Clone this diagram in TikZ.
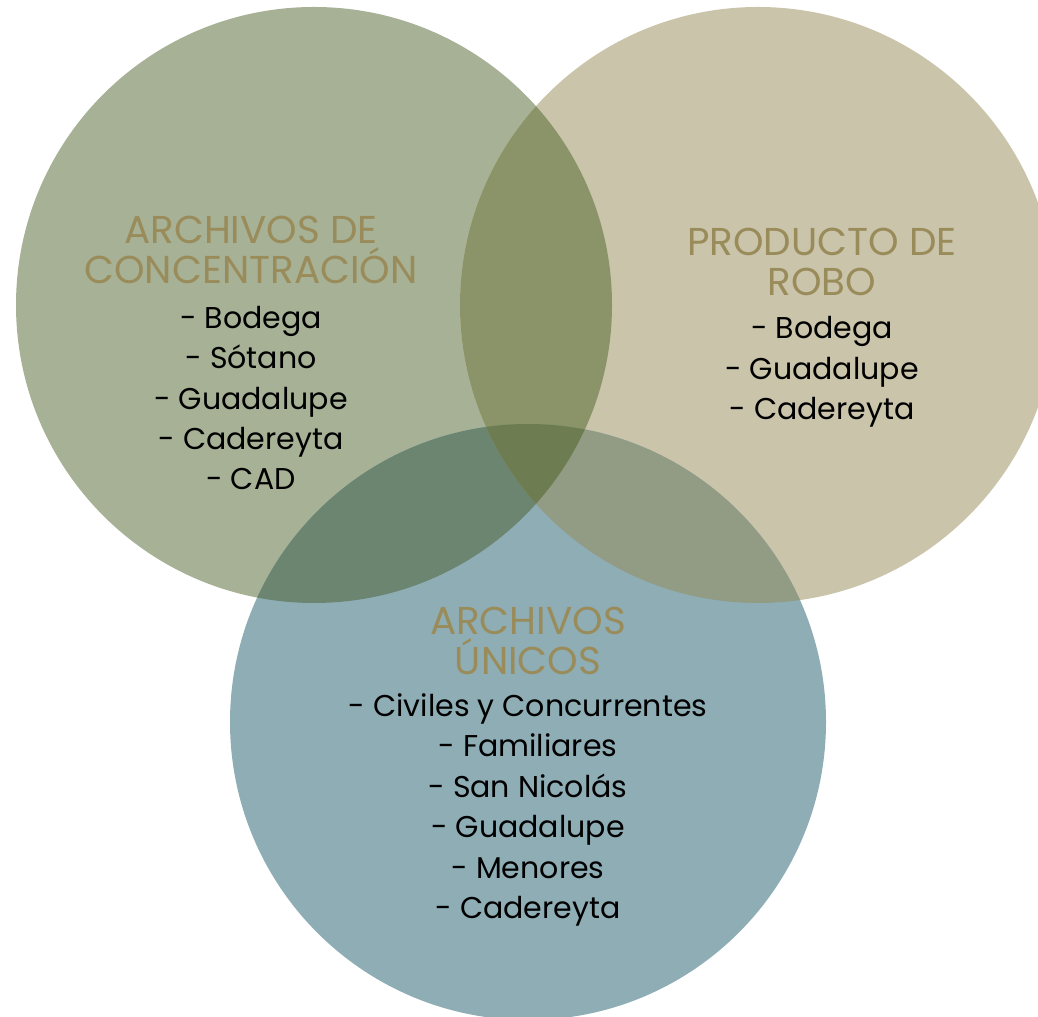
\documentclass[tikz,border=0pt]{standalone}
\usepackage{fontspec}
\setmainfont{Poppins}
\definecolor{gcirc}{HTML}{A6B195}
\definecolor{tcirc}{HTML}{C9C4AA}
\definecolor{bcirc}{HTML}{8FADB5}
\definecolor{gtover}{HTML}{8B9468}
\definecolor{gbover}{HTML}{6B8571}
\definecolor{tbover}{HTML}{929C85}
\definecolor{allover}{HTML}{6E7C51}
\definecolor{headcol}{HTML}{9A8C5A}
\tikzset{
  headtext/.style={text=headcol, align=center, font=\fontsize{22.1pt}{22.7pt}\selectfont, inner sep=0pt},
  listtext/.style={text=black, align=center, font=\fontsize{17.1pt}{23pt}\selectfont, inner sep=0pt}
}
\begin{document}
\begin{tikzpicture}[x=0.02cm, y=0.02cm]
\useasboundingbox (0,0) rectangle (1038,1017);
\coordinate (g) at (314,712);
\coordinate (t) at (758,712);
\coordinate (b) at (528,295);
\fill[gcirc] (g) circle (298);
\fill[tcirc] (t) circle (298);
\fill[bcirc] (b) circle (298);
\begin{scope}
  \clip (g) circle (298);
  \fill[gtover] (t) circle (298);
  \fill[gbover] (b) circle (298);
\end{scope}
\begin{scope}
  \clip (t) circle (298);
  \fill[tbover] (b) circle (298);
\end{scope}
\begin{scope}
  \clip (g) circle (298);
  \clip (t) circle (298);
  \fill[allover] (b) circle (298);
\end{scope}
% titles and lists
\node[headtext] (gtitle) at (251,767) {ARCHIVOS DE\\CONCENTRACIÓN};
\node[listtext] (glist) at (251,619) {- Bodega\\- Sótano\\- Guadalupe\\- Cadereyta\\- CAD};
\node[headtext] (ttitle) at (822,755) {PRODUCTO DE\\ROBO};
\node[listtext] (tlist) at (822,645) {- Bodega\\- Guadalupe\\- Cadereyta};
\node[headtext] (btitle) at (528,376) {ARCHIVOS\\ÚNICOS};
\node[listtext] (blist) at (528,207) {- Civiles y Concurrentes\\- Familiares\\- San Nicolás\\- Guadalupe\\- Menores\\- Cadereyta};
\end{tikzpicture}
\end{document}
